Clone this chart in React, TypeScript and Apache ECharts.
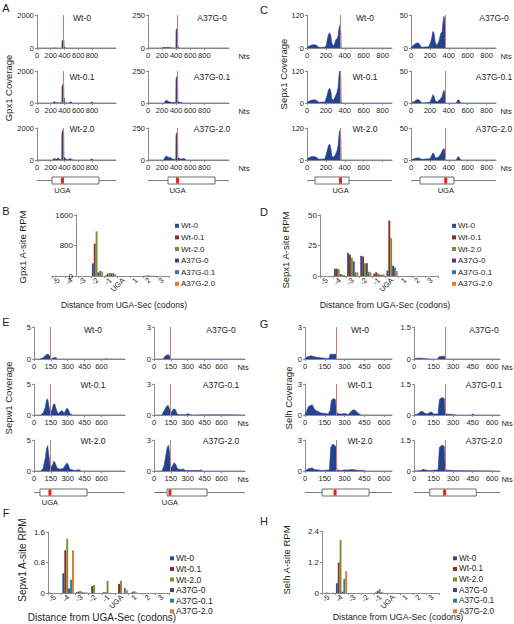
import React, { useEffect, useRef } from "react";
import * as echarts from "echarts";

const FONT = "'Liberation Sans', Arial, Helvetica, sans-serif";
const AXIS_COLOR = "#8c8c8c";
const TEXT_COLOR = "#231f20";
const COV_FILL = "#24438f";
const UGA_LINE = "#d6786c";
const barColors = ["#2a4f8e", "#8e2b25", "#73912f", "#4e3d78", "#2b8099", "#e5772c"];

// ---------- Coverage profiles: [nt, coverage] ----------
const gpx1Wt0 = [[0,0],[230,0],[245,12],[265,12],[275,0],[300,6],[320,0],[362,0],[364,430],[374,470],[392,470],[395,60],[410,20],[430,0],[1150,0]];
const gpx1Wt01 = [[0,0],[230,0],[242,70],[262,80],[272,10],[300,15],[340,10],[362,0],[364,1000],[372,1150],[388,1150],[391,250],[398,300],[404,20],[430,10],[470,0],[480,70],[495,80],[505,0],[780,0],[790,55],[805,55],[812,0],[1150,0]];
const gpx1Wt20 = [[0,0],[230,0],[240,80],[262,100],[272,30],[290,60],[305,120],[320,90],[335,20],[360,0],[362,1600],[370,1850],[388,1850],[392,200],[400,150],[420,50],[450,20],[470,60],[490,100],[505,20],[560,0],[780,0],[790,70],[805,70],[812,0],[1150,0]];
const gpx1A0 = [[0,0],[200,0],[215,5],[250,4],[290,6],[330,2],[396,0],[398,130],[406,145],[420,145],[423,10],[450,0],[1150,0]];
const gpx1A01 = [[0,0],[230,0],[245,15],[262,22],[280,15],[300,8],[330,5],[395,4],[397,180],[406,205],[420,200],[423,15],[440,6],[470,4],[500,0],[1150,0]];
const gpx1A20 = [[0,0],[220,0],[240,20],[262,32],[282,22],[300,18],[320,22],[340,8],[395,4],[397,190],[406,212],[420,205],[423,20],[445,12],[470,6],[500,12],[520,10],[540,0],[1150,0]];

const sepx1Wt0 = [[0,0],[10,5],[30,8],[50,11],[80,12],[100,10],[125,3],[140,2],[190,3],[205,10],[220,40],[235,55],[250,50],[262,20],[275,8],[290,12],[305,30],[320,35],[330,45],[338,70],[345,80],[352,85],[358,60],[362,0],[900,0]];
const sepx1Wt01 = [[0,0],[10,5],[40,10],[70,12],[100,10],[125,3],[190,4],[210,25],[228,50],[240,55],[252,45],[262,15],[280,10],[300,25],[318,40],[330,60],[338,100],[345,120],[352,115],[358,90],[362,0],[900,0]];
const sepx1Wt20 = [[0,0],[10,6],[40,12],[70,13],[100,10],[125,3],[190,4],[210,30],[228,55],[240,60],[252,45],[262,15],[280,10],[300,20],[318,35],[330,55],[338,90],[345,110],[352,100],[358,80],[362,0],[900,0]];
const sepx1A0 = [[0,0],[15,3],[50,7],[75,8],[95,5],[110,1],[190,2],[215,12],[232,25],[242,24],[255,10],[270,3],[295,10],[315,22],[330,25],[340,40],[348,48],[356,45],[361,30],[365,0],[900,0]];
const sepx1A01 = [[0,0],[30,2],[60,5],[85,5],[100,2],[120,0],[200,1],[215,6],[232,13],[245,10],[258,3],[280,2],[310,6],[330,10],[342,18],[350,20],[358,15],[365,0],[480,0],[492,4],[505,5],[518,2],[530,0],[900,0]];
const sepx1A20 = [[0,0],[30,2],[60,3],[85,3],[110,1],[200,2],[218,7],[232,11],[245,9],[258,3],[285,4],[310,8],[330,14],[345,18],[353,17],[360,10],[366,0],[480,0],[492,4],[505,5],[518,2],[530,0],[900,0]];

const sepw1Wt0 = [[0,0],[50,0],[70,0.1],[95,0.4],[110,0.7],[125,0.75],[140,0.5],[150,0],[165,0.1],[180,0.25],[195,0.2],[210,0],[620,0],[640,0.05],[660,0],[810,0]];
const sepw1Wt01 = [[0,0],[60,0],[80,0.3],[100,1.2],[112,2.4],[122,2.6],[132,1.5],[145,0.3],[160,0.8],[172,1.7],[184,1.8],[198,0.9],[215,0.2],[230,0.4],[242,0.7],[256,0.6],[268,0.2],[280,0.7],[292,1.1],[305,0.9],[318,0.3],[330,0.1],[345,0],[810,0]];
const sepw1Wt20 = [[0,0],[60,0],[80,0.4],[100,2],[112,3.6],[122,4.1],[132,2.5],[145,0.5],[165,1],[178,1.6],[190,1.2],[205,0.5],[230,0.3],[260,0.4],[278,0.9],[292,1.3],[305,1.0],[320,0.3],[360,0.1],[400,0.2],[420,0],[810,0]];
const sepw1A0 = [[0,0],[80,0],[95,0.2],[108,0.35],[128,0.4],[138,0.3],[145,0],[810,0]];
const sepw1A01 = [[0,0],[70,0],[90,0.4],[110,0.8],[125,0.95],[138,0.6],[148,0.15],[162,0.4],[178,0.6],[192,0.5],[205,0.1],[230,0.03],[290,0.05],[300,0.15],[312,0.05],[340,0],[450,0.03],[650,0.03],[810,0]];
const sepw1A20 = [[0,0],[70,0],[90,0.5],[105,1.5],[118,2.3],[130,2.5],[140,1.6],[150,0.3],[165,0.5],[180,0.8],[195,0.6],[210,0.2],[240,0.15],[260,0.2],[280,0.05],[410,0.05],[420,0.12],[430,0],[810,0]];

const selhWt0 = [[0,0],[10,0.15],[30,0.25],[50,0.3],[70,0.2],[100,0.15],[130,0.1],[170,0.05],[185,0.1],[190,0.45],[235,0.45],[240,0],[660,0]];
const selhWt01 = [[0,0],[10,0.3],[25,0.8],[40,0.9],[55,1.0],[70,0.6],[85,0.4],[100,0.35],[120,0.2],[150,0.15],[175,0.1],[190,0.4],[200,1.4],[215,1.6],[230,1.5],[240,0.3],[255,0.1],[280,0.1],[300,0.15],[315,0.1],[330,0.05],[345,0.3],[365,0.5],[380,0.45],[395,0.3],[410,0.1],[430,0],[660,0]];
const selhWt20 = [[0,0],[10,0.1],[30,0.25],[55,0.3],[70,0.15],[100,0.1],[130,0.05],[185,0.1],[195,2.3],[210,2.6],[225,2.5],[238,2.3],[242,0.1],[270,0.05],[300,0.1],[330,0.1],[360,0.15],[380,0.1],[420,0.05],[450,0.05],[460,0],[660,0]];
const selhA0 = [[0,0],[20,0.03],[50,0.04],[80,0.02],[120,0],[180,0],[195,0.12],[235,0.13],[240,0],[660,0]];
const selhA01 = [[0,0],[30,0.05],[45,0.15],[65,0.18],[80,0.1],[100,0.05],[120,0.12],[135,0.15],[150,0.05],[185,0.05],[195,0.75],[215,0.85],[232,0.8],[240,0.05],[300,0.03],[320,0],[440,0],[450,0.05],[465,0],[660,0]];
const selhA20 = [[0,0],[50,0.02],[70,0.08],[85,0.05],[120,0.02],[185,0.05],[195,1.15],[215,1.25],[232,1.2],[240,0.05],[300,0.02],[660,0]];

// ---------- Gene diagrams: [lineStart, lineEnd, cdsStart, cdsEnd, UGA] in nt ----------
const gpx1GeneL = [0, 1150, 218, 902, 370];
const gpx1GeneR = [0, 1150, 284, 952, 420];
const sepx1GeneL = [0, 900, 85, 445, 355];
const sepx1GeneR = [0, 900, 95, 455, 368];
const sepw1GeneL = [0, 810, 53, 472, 142];
const sepw1GeneR = [0, 810, 116, 472, 142];
const selhGeneL = [0, 660, 129, 486, 228];
const selhGeneR = [0, 660, 121, 478, 235];

// ---------- A-site RPM bar charts ----------
const barCategories = ["-5", "-4", "-3", "-2", "-1", "UGA", "1", "2", "3"];
const sampleNames = ["Wt-0", "Wt-0.1", "Wt-2.0", "A37G-0", "A37G-0.1", "A37G-2.0"];

const gpx1RpmWt0 = [0, 0, 0, 330, 15, 0, 0, 5, 0];
const gpx1RpmWt01 = [0, 0, 0, 850, 60, 0, 0, 10, 0];
const gpx1RpmWt20 = [0, 0, 0, 1170, 80, 0, 0, 20, 0];
const gpx1RpmA0 = [0, 0, 0, 95, 70, 0, 0, 5, 0];
const gpx1RpmA01 = [0, 0, 0, 135, 75, 0, 0, 5, 0];
const gpx1RpmA20 = [0, 0, 0, 115, 50, 0, 0, 10, 0];

const sepx1RpmWt0 = [0, 6, 19, 16.5, 2, 4.5, 0, 0, 0];
const sepx1RpmWt01 = [0, 6, 17.5, 16, 3, 45.5, 0, 0, 0];
const sepx1RpmWt20 = [0, 5.5, 15, 10.5, 2, 31, 0, 0, 0];
const sepx1RpmA0 = [0, 1.5, 12, 10.5, 1, 8.5, 0, 0, 0];
const sepx1RpmA01 = [0, 1, 3, 3.5, 1, 7, 0, 0, 0];
const sepx1RpmA20 = [0, 1, 3, 3, 1.5, 4, 0, 0, 0];

const sepw1RpmWt0 = [0.01, 0.52, 0.02, 0, 0.02, 0, 0, 0, 0];
const sepw1RpmWt01 = [0, 1.12, 0.04, 0.18, 0.02, 0.24, 0.03, 0, 0];
const sepw1RpmWt20 = [0, 1.42, 0.05, 0.21, 0.32, 0.32, 0.05, 0, 0];
const sepw1RpmA0 = [0, 0.12, 0.02, 0, 0, 0, 0.01, 0, 0];
const sepw1RpmA01 = [0, 0.35, 0.01, 0, 0, 0.13, 0, 0, 0];
const sepw1RpmA20 = [0, 1.12, 0.02, 0, 0, 0.08, 0, 0, 0];

const selhRpmWt0 = [0, 0.38, 0, 0, 0.02, 0, 0, 0, 0];
const selhRpmWt01 = [0.01, 1.18, 0, 0, 0.08, 0, 0, 0, 0];
const selhRpmWt20 = [0.02, 2.05, 0, 0, 0.15, 0.01, 0, 0, 0];
const selhRpmA0 = [0, 0.05, 0, 0, 0.03, 0, 0, 0, 0];
const selhRpmA01 = [0, 0.55, 0, 0, 0.01, 0, 0, 0, 0];
const selhRpmA20 = [0.02, 0.85, 0, 0, 0, 0, 0, 0, 0];

const wtLabels = ["Wt-0", "Wt-0.1", "Wt-2.0"];
const mutLabels = ["A37G-0", "A37G-0.1", "A37G-2.0"];

const plain = (v: number) => String(v);

function buildOption() {
  const grids: any[] = [];
  const xAxes: any[] = [];
  const yAxes: any[] = [];
  const series: any[] = [];
  const graphics: any[] = [];
  const legends: any[] = [];

  const text = (t: string, x: number, y: number, size: number, opts: any = {}) => {
    graphics.push({
      type: "text",
      x,
      y,
      rotation: opts.rotation || 0,
      silent: true,
      style: {
        text: t,
        fontSize: size,
        fontFamily: FONT,
        fill: TEXT_COLOR,
        textAlign: opts.align || "center",
        textVerticalAlign: "middle",
        align: opts.align || "center",
        verticalAlign: "middle",
      },
    });
  };

  const addCoverage = (x0: number, x1: number, top: number, bottom: number, xMax: number, ticks: number[], labelTicks: number[], yMax: number, data: number[][], uga: number) => {
    const gi = grids.length;
    grids.push({ left: x0, top, width: x1 - x0, height: bottom - top });
    xAxes.push({
      type: "value", gridIndex: gi, min: 0, max: xMax,
      axisLine: { show: true, lineStyle: { color: AXIS_COLOR, width: 1 } },
      axisTick: { show: true, length: 2, customValues: ticks, lineStyle: { color: AXIS_COLOR } },
      axisLabel: { customValues: labelTicks, fontSize: 7.5, color: TEXT_COLOR, margin: 3, fontFamily: FONT, formatter: plain },
      splitLine: { show: false },
    });
    yAxes.push({
      type: "value", gridIndex: gi, min: 0, max: yMax, interval: yMax,
      axisLine: { show: true, lineStyle: { color: AXIS_COLOR, width: 1 } },
      axisTick: { show: true, length: 2, lineStyle: { color: AXIS_COLOR } },
      axisLabel: { fontSize: 7.5, color: TEXT_COLOR, margin: 3, fontFamily: FONT, formatter: plain },
      splitLine: { show: false },
    });
    series.push({
      type: "line", xAxisIndex: gi, yAxisIndex: gi, data, symbol: "none", silent: true,
      lineStyle: { width: 0.6, color: COV_FILL }, areaStyle: { color: COV_FILL, opacity: 1 },
      markLine: {
        silent: true, symbol: ["none", "none"], label: { show: false },
        lineStyle: { color: UGA_LINE, width: 1, type: "solid" },
        data: [{ xAxis: uga }],
      },
      z: 3,
    });
  };

  const addGene = (x0: number, x1: number, top: number, xMax: number, gene: number[], showUga: boolean) => {
    const gi = grids.length;
    grids.push({ left: x0, top, width: x1 - x0, height: 7 });
    xAxes.push({ type: "value", gridIndex: gi, min: 0, max: xMax, show: false });
    yAxes.push({ type: "value", gridIndex: gi, min: 0, max: 1, show: false });
    series.push({
      type: "custom", xAxisIndex: gi, yAxisIndex: gi, silent: true, clip: false,
      data: [gene],
      renderItem: (params: any, api: any) => {
        const ls = api.coord([api.value(0), 0.5]);
        const le = api.coord([api.value(1), 0.5]);
        const bTL = api.coord([api.value(2), 1]);
        const bBR = api.coord([api.value(3), 0]);
        const u = api.coord([api.value(4), 0]);
        const children: any[] = [
          { type: "line", shape: { x1: ls[0], y1: ls[1], x2: le[0], y2: le[1] }, style: { stroke: "#7a7a7a", lineWidth: 1 } },
          { type: "rect", shape: { x: bTL[0], y: bTL[1], width: bBR[0] - bTL[0], height: bBR[1] - bTL[1] }, style: { fill: "#ffffff", stroke: "#6f6f6f", lineWidth: 1 } },
          { type: "rect", shape: { x: u[0] - 1.5, y: bTL[1] + 0.5, width: 3, height: bBR[1] - bTL[1] - 1 }, style: { fill: "#e3231c" } },
        ];
        if (showUga) {
          children.push({
            type: "text", x: u[0], y: bBR[1] + 6,
            style: { text: "UGA", fontSize: 7.5, fontFamily: FONT, fill: TEXT_COLOR, textAlign: "center", textVerticalAlign: "middle", align: "center", verticalAlign: "middle" },
          });
        }
        return { type: "group", children };
      },
    });
  };

  const addBars = (left: number, top: number, width: number, height: number, yMax: number, data: number[][], yOffset: number, legendLeft: number, legendTop: number, legendSize: number, legendStep: number) => {
    const gi = grids.length;
    grids.push({ left, top, width, height });
    xAxes.push({
      type: "category", gridIndex: gi, data: barCategories,
      axisLine: { show: true, lineStyle: { color: AXIS_COLOR, width: 1 } },
      axisTick: { show: true, length: 2, lineStyle: { color: AXIS_COLOR } },
      axisLabel: { rotate: 45, interval: 0, fontSize: 7.5, color: TEXT_COLOR, margin: 3, fontFamily: FONT },
    });
    yAxes.push({
      type: "value", gridIndex: gi, min: 0, max: yMax, interval: yMax / 2, offset: yOffset,
      axisLine: { show: true, lineStyle: { color: AXIS_COLOR, width: 1 } },
      axisTick: { show: true, length: 2, lineStyle: { color: AXIS_COLOR } },
      axisLabel: { fontSize: 8, color: TEXT_COLOR, margin: 3, fontFamily: FONT, formatter: plain },
      splitLine: { show: false },
    });
    sampleNames.forEach((name, i) => {
      series.push({
        type: "bar", name, xAxisIndex: gi, yAxisIndex: gi, data: data[i], silent: true,
        barGap: "0%", barCategoryGap: "14%", itemStyle: { color: barColors[i] },
      });
    });
    legends.push({
      data: sampleNames, orient: "vertical", left: legendLeft, top: legendTop, padding: 0,
      itemWidth: 4, itemHeight: 4, itemGap: 0, icon: "rect", selectedMode: false,
      textStyle: { fontSize: legendSize, lineHeight: legendStep, color: TEXT_COLOR, fontFamily: FONT, padding: [0, 0, 0, -3] },
    });
  };

  // ----- coverage blocks -----
  const topRows = [[15, 48], [71, 103], [128, 160]];
  const topTitleY = [18, 77, 129];
  const botRows = [[327, 359], [384, 415], [440, 471]];
  const botTitleY = [330, 385, 441];

  const blocks = [
    { xMax: 1150, ticks: [0, 200, 400, 600, 800, 1000], rows: topRows, titleY: topTitleY, geneY: 177, ugaLabel: true, ntsX: 244,
      cols: [
        { x0: 37, x1: 116, yMax: 2000, titleX: 82, data: [gpx1Wt0, gpx1Wt01, gpx1Wt20], labels: wtLabels, uga: 380, gene: gpx1GeneL, lastLabels: null },
        { x0: 148, x1: 229, yMax: 250, titleX: 212, data: [gpx1A0, gpx1A01, gpx1A20], labels: mutLabels, uga: 420, gene: gpx1GeneR, lastLabels: null },
      ] },
    { xMax: 900, ticks: [0, 200, 400, 600, 800], rows: topRows, titleY: topTitleY, geneY: 177, ugaLabel: true, ntsX: 506,
      cols: [
        { x0: 307, x1: 392, yMax: 120, titleX: 365, data: [sepx1Wt0, sepx1Wt01, sepx1Wt20], labels: wtLabels, uga: 352, gene: sepx1GeneL, lastLabels: [0, 200, 400, 600] },
        { x0: 411, x1: 496, yMax: 50, titleX: 494, data: [sepx1A0, sepx1A01, sepx1A20], labels: mutLabels, uga: 365, gene: sepx1GeneR, lastLabels: null },
      ] },
    { xMax: 810, ticks: [0, 150, 300, 450, 600], rows: botRows, titleY: botTitleY, geneY: 489, ugaLabel: true, ntsX: 243,
      cols: [
        { x0: 34, x1: 125, yMax: 5, titleX: 93, data: [sepw1Wt0, sepw1Wt01, sepw1Wt20], labels: wtLabels, uga: 148, gene: sepw1GeneL, lastLabels: null },
        { x0: 154, x1: 245, yMax: 3, titleX: 221, data: [sepw1A0, sepw1A01, sepw1A20], labels: mutLabels, uga: 145, gene: sepw1GeneR, lastLabels: null },
      ] },
    { xMax: 660, ticks: [0, 150, 300, 450, 600], rows: botRows, titleY: botTitleY, geneY: 489, ugaLabel: false, ntsX: 507,
      cols: [
        { x0: 305, x1: 392, yMax: 3, titleX: 360, data: [selhWt0, selhWt01, selhWt20], labels: wtLabels, uga: 238, gene: selhGeneL, lastLabels: null },
        { x0: 414, x1: 500, yMax: 1.5, titleX: 484, data: [selhA0, selhA01, selhA20], labels: mutLabels, uga: 238, gene: selhGeneR, lastLabels: null },
      ] },
  ];

  blocks.forEach((b) => {
    b.cols.forEach((c, ci) => {
      b.rows.forEach((r, ri) => {
        const lbl = ri === 2 && c.lastLabels ? c.lastLabels : b.ticks;
        addCoverage(c.x0, c.x1, r[0], r[1], b.xMax, b.ticks, lbl, c.yMax, c.data[ri], c.uga);
        text(c.labels[ri], c.titleX, b.titleY[ri], 8.5);
        if (ci === 1) text("Nts", b.ntsX, r[1] + 8, 7.5);
      });
      addGene(c.x0, c.x1, b.geneY, b.xMax, c.gene, b.ugaLabel);
    });
  });

  // ----- bar charts -----
  addBars(52, 215, 117, 61, 1600, [gpx1RpmWt0, gpx1RpmWt01, gpx1RpmWt20, gpx1RpmA0, gpx1RpmA01, gpx1RpmA20], -24, 175, 220, 8, 11.6);
  addBars(320, 215, 118, 61, 50, [sepx1RpmWt0, sepx1RpmWt01, sepx1RpmWt20, sepx1RpmA0, sepx1RpmA01, sepx1RpmA20], 0, 452, 220, 8, 11.6);
  addBars(48, 532, 121, 61, 1.6, [sepw1RpmWt0, sepw1RpmWt01, sepw1RpmWt20, sepw1RpmA0, sepw1RpmA01, sepw1RpmA20], 0, 170, 553, 8.6, 10.6);
  addBars(322, 531, 117, 62, 2.4, [selhRpmWt0, selhRpmWt01, selhRpmWt20, selhRpmA0, selhRpmA01, selhRpmA20], 0, 453, 553, 8.2, 10.6);

  // ----- panel letters -----
  text("A", 6, 8, 11);
  text("B", 6, 211, 11);
  text("C", 264, 10, 11);
  text("D", 264, 212, 11);
  text("E", 6, 322, 11);
  text("F", 6, 513, 11);
  text("G", 264, 324, 11);
  text("H", 264, 521, 11);

  // ----- axis titles -----
  const R = Math.PI / 2;
  text("Gpx1 Coverage", 8, 88, 9.5, { rotation: R });
  text("Sepx1 Coverage", 283, 74, 9.5, { rotation: R });
  text("Sepw1 Coverage", 8, 398, 9.5, { rotation: R });
  text("Selh Coverage", 288, 398, 9.5, { rotation: R });
  text("Gpx1 A-site RPM", 22, 247, 9.5, { rotation: R });
  text("Sepx1 A-site RPM", 285, 250, 9.5, { rotation: R });
  text("Sepw1 A-site RPM", 22, 560, 10, { rotation: R });
  text("Selh A-site RPM", 286, 560, 9.5, { rotation: R });
  text("Distance from UGA-Sec (codons)", 124, 305, 8.5);
  text("Distance from UGA-Sec (codons)", 385, 305, 8.8);
  text("Distance from UGA-Sec (codons)", 102, 617, 10);
  text("Distance from UGA-Sec (codons)", 398, 617, 8.8);

  return {
    animation: false,
    backgroundColor: "#ffffff",
    textStyle: { fontFamily: FONT },
    grid: grids,
    xAxis: xAxes,
    yAxis: yAxes,
    series,
    legend: legends,
    graphic: { elements: graphics },
  };
}

export default function App() {
  const ref = useRef<HTMLDivElement>(null);
  useEffect(() => {
    if (!ref.current) return;
    const chart = echarts.init(ref.current, undefined, { renderer: "svg" });
    chart.setOption(buildOption() as any);
    return () => chart.dispose();
  }, []);
  return (
    <div
      ref={ref}
      style={{ position: "absolute", left: 0, top: 0, width: 514, height: 624, background: "#fff" }}
    />
  );
}
